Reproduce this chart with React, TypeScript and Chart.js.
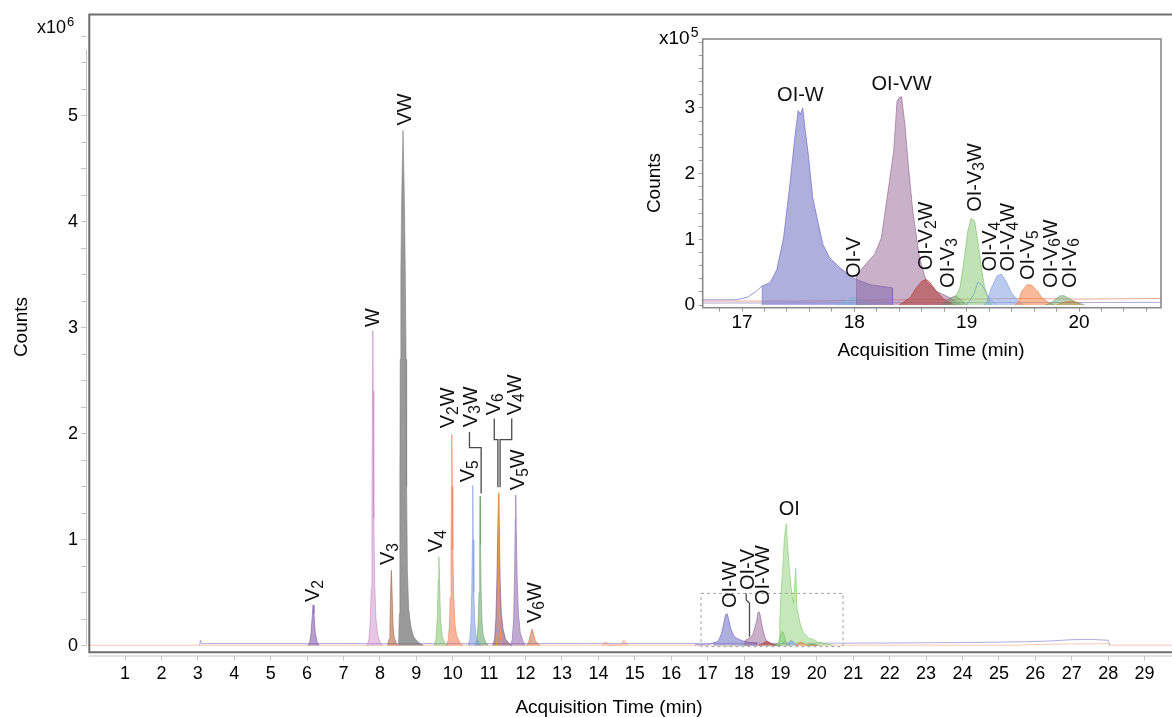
import React, { useEffect, useRef } from "react";
import { Chart, registerables } from "chart.js";
Chart.register(...registerables);

const FONT = '"Liberation Sans", Arial, Helvetica, sans-serif';
type P = [number, number];

// ---------------- DATA: [acquisition time (min), counts ×10^5] ----------------
const MAIN_X_TICKS = [1, 2, 3, 4, 5, 6, 7, 8, 9, 10, 11, 12, 13, 14, 15, 16, 17, 18, 19, 20, 21, 22, 23, 24, 25, 26, 27, 28, 29];
const MAIN_Y_TICKS = [0, 2.5, 5, 7.5, 10, 12.5, 15, 17.5, 20, 22.5, 25, 27.5, 30, 32.5, 35, 37.5, 40, 42.5, 45, 47.5, 50, 52.5, 55, 57.5];
const MAIN_Y_LABELS = [0, 10, 20, 30, 40, 50]; // displayed as 0..5 (x10^6)
const INSET_X_TICKS = [16.8, 17, 17.2, 17.4, 17.6, 17.8, 18, 18.2, 18.4, 18.6, 18.8, 19, 19.2, 19.4, 19.6, 19.8, 20, 20.2, 20.4, 20.6];
const INSET_X_LABELS = [17, 18, 19, 20];
const INSET_Y_TICKS = [0, 0.2, 0.4, 0.6, 0.8, 1, 1.2, 1.4, 1.6, 1.8, 2, 2.2, 2.4, 2.6, 2.8, 3, 3.2, 3.4, 3.6, 3.8, 4];
const INSET_Y_LABELS = [0, 1, 2, 3];

const BASE_ORANGE: P[] = [[0, 0.03], [25.5, 0.03], [26, 0.1], [27, 0.15], [28, 0.18], [28.05, 0.04], [30, 0.04]];
const BASE_PURPLE: P[] = [[3.05, 0], [3.07, 0.5], [3.1, 0.18], [6, 0.18], [10, 0.18], [14, 0.2], [17, 0.2], [20, 0.22], [22, 0.24], [24, 0.28], [25, 0.32], [26, 0.38], [26.5, 0.45], [27, 0.55], [27.5, 0.58], [28, 0.5], [28.05, 0]];
const MINOR_BUMPS: P[] = [[14.1, 0.05], [14.2, 0.35], [14.28, 0.05], [14.6, 0.05], [14.7, 0.5], [14.82, 0.05]];

const V2: P[] = [[6.02, 0], [6.07, 0.3], [6.11, 1.2], [6.145, 3.0], [6.165, 3.82], [6.19, 3.0], [6.225, 1.2], [6.27, 0.4], [6.33, 0]];
const W: P[] = [[7.65, 0], [7.7, 0.6], [7.735, 2.2], [7.765, 5.5], [7.782, 12], [7.797, 25], [7.805, 29.7], [7.815, 24], [7.832, 12], [7.855, 6], [7.89, 2.5], [7.94, 1], [8.0, 0.3], [8.08, 0]];
const V3: P[] = [[8.21, 0], [8.25, 0.6], [8.275, 2], [8.298, 5.5], [8.315, 7.1], [8.335, 5], [8.36, 2], [8.39, 0.8], [8.45, 0.2], [8.5, 0]];
const VW: P[] = [[8.51, 0], [8.535, 3], [8.548, 15], [8.558, 27], [8.575, 35], [8.597, 42], [8.635, 48.6], [8.672, 42], [8.698, 35], [8.718, 27], [8.733, 15], [8.755, 7], [8.79, 3.5], [8.85, 1.8], [8.93, 0.8], [9.05, 0.3], [9.2, 0]];
const V4: P[] = [[9.49, 0], [9.54, 0.6], [9.575, 2.5], [9.602, 6.2], [9.62, 8.37], [9.638, 6], [9.665, 2.5], [9.71, 0.8], [9.79, 0.2], [9.86, 0]];
const V2W: P[] = [[9.83, 0], [9.88, 0.6], [9.91, 2], [9.93, 4.5], [9.952, 9], [9.966, 15], [9.975, 19.9], [9.986, 15], [10.002, 9], [10.03, 4.5], [10.06, 2], [10.11, 0.9], [10.19, 0.3], [10.28, 0]];
const V5: P[] = [[10.42, 0], [10.47, 0.6], [10.5, 2.2], [10.522, 5], [10.54, 10], [10.55, 15.1], [10.562, 10], [10.58, 5], [10.605, 2.2], [10.64, 0.9], [10.71, 0.3], [10.78, 0]];
const V3W: P[] = [[10.62, 0], [10.67, 0.6], [10.7, 2.2], [10.722, 5], [10.74, 9.5], [10.75, 14.1], [10.762, 9.5], [10.78, 5], [10.805, 2.2], [10.84, 0.9], [10.91, 0.3], [10.98, 0]];
const V4W: P[] = [[11.1, 0], [11.15, 0.6], [11.185, 2.5], [11.215, 6.5], [11.242, 11.5], [11.26, 14.2], [11.278, 11], [11.303, 6], [11.335, 3], [11.385, 1.5], [11.45, 0.6], [11.55, 0.2], [11.62, 0]];
const V6: P[] = [[11.2, 0], [11.24, 2], [11.255, 8], [11.262, 14.45], [11.27, 8], [11.29, 2], [11.33, 0]];
const V5W: P[] = [[11.59, 0], [11.635, 0.6], [11.672, 2.5], [11.7, 7], [11.718, 12], [11.73, 14.2], [11.745, 11], [11.772, 6], [11.805, 3], [11.855, 1.2], [11.93, 0.4], [12.0, 0]];
const V6W: P[] = [[12.04, 0], [12.09, 0.4], [12.14, 1.1], [12.18, 1.56], [12.22, 1.1], [12.26, 0.5], [12.33, 0.2], [12.4, 0]];
const OI: P[] = [[18.97, 0], [18.98, 2.4], [19.01, 4.6], [19.07, 7.75], [19.11, 10.25], [19.16, 11.5], [19.2, 9.3], [19.24, 7.43], [19.3, 5.23], [19.36, 3.98], [19.42, 7.28], [19.45, 3.66], [19.54, 2.09], [19.6, 1.5], [19.63, 1.15], [19.7, 1.0], [19.77, 0.68], [19.9, 0.6], [20.0, 0.35], [20.3, 0.15], [20.45, 0]];

const OI_W_LEAD: P[] = [[16.65, 0.08], [16.95, 0.08], [17.05, 0.12], [17.12, 0.2], [17.18, 0.29]];
const OI_W: P[] = [[17.18, 0], [17.18, 0.29], [17.25, 0.34], [17.31, 0.54], [17.37, 1.02], [17.43, 1.89], [17.47, 2.55], [17.5, 2.96], [17.52, 2.9], [17.54, 3.0], [17.56, 2.7], [17.59, 2.29], [17.63, 1.63], [17.68, 1.23], [17.72, 0.92], [17.78, 0.72], [17.87, 0.57], [17.99, 0.41], [18.14, 0.31], [18.34, 0.26], [18.34, 0]];
const OI_V: P[] = [[17.85, 0], [17.95, 0.08], [18.0, 0.12], [18.06, 0.08], [18.15, 0]];
const OI_VW: P[] = [[18.02, 0], [18.02, 0.45], [18.11, 0.64], [18.18, 0.77], [18.24, 1.02], [18.3, 1.73], [18.35, 2.34], [18.38, 3.1], [18.4, 3.16], [18.42, 3.17], [18.45, 2.75], [18.48, 2.14], [18.52, 1.43], [18.58, 0.72], [18.64, 0.36], [18.73, 0.21], [18.85, 0.11], [18.95, 0]];
const OI_V2W: P[] = [[18.4, 0], [18.5, 0.12], [18.55, 0.26], [18.6, 0.36], [18.64, 0.39], [18.67, 0.35], [18.73, 0.21], [18.8, 0.08], [18.9, 0]];
const OI_V3: P[] = [[18.78, 0], [18.85, 0.1], [18.9, 0.14], [18.95, 0.08], [19.0, 0]];
const OI_V3W: P[] = [[18.86, 0], [18.88, 0.05], [18.94, 0.26], [18.98, 0.72], [19.01, 1.12], [19.04, 1.32], [19.07, 1.28], [19.1, 0.97], [19.13, 0.57], [19.16, 0.26], [19.19, 0.11], [19.22, 0]];
const OI_V4: P[] = [[19.0, 0], [19.06, 0.15], [19.1, 0.35], [19.14, 0.3], [19.2, 0.1], [19.26, 0]];
const OI_V4W: P[] = [[19.15, 0], [19.18, 0.05], [19.22, 0.26], [19.27, 0.44], [19.31, 0.47], [19.35, 0.36], [19.4, 0.18], [19.45, 0.08], [19.5, 0]];
const OI_V5: P[] = [[19.43, 0], [19.46, 0.05], [19.49, 0.21], [19.54, 0.31], [19.58, 0.3], [19.63, 0.21], [19.67, 0.11], [19.72, 0.05], [19.78, 0]];
const OI_V6W: P[] = [[19.7, 0], [19.75, 0.03], [19.83, 0.14], [19.87, 0.14], [19.96, 0.05], [20.05, 0]];
const OI_V6: P[] = [[19.8, 0], [19.88, 0.05], [19.95, 0.06], [20.02, 0]];
const INSET_BASE_RED: P[] = [[16.65, 0.06], [17.5, 0.06], [18.5, 0.08], [19.5, 0.1], [20, 0.09], [20.73, 0.1]];
const INSET_BASE_VIOLET: P[] = [[16.65, 0.03], [20.73, 0.04]];

// label text ("_d" = subscript), time of label, intensity at label foot
const MAIN_LABELS: [string, number, number][] = [
  ["V_2", 6.14, 4.1], ["W", 7.79, 30.05], ["V_3", 8.2, 7.59], ["VW", 8.66, 49.06], ["V_4", 9.52, 8.81],
  ["V_2W", 9.85, 20.5], ["V_5", 10.4, 15.4], ["V_3W", 10.46, 20.6], ["V_6", 11.09, 21.72], ["V_4W", 11.68, 21.72],
  ["V_5W", 11.77, 14.66], ["V_6W", 12.23, 2.12], ["OI-W", 17.59, 3.53], ["OI-V", 18.07, 5.23], ["OI-VW", 18.5, 3.82],
];
const MAIN_FLAT_LABELS: [string, number, number][] = [["OI", 19.24, 12.3]];
const MAIN_LEADERS: P[][] = [
  [[10.78, 14.35], [10.78, 18.68], [10.46, 18.68], [10.46, 20.15]],
  [[11.24, 14.94], [11.24, 19.43], [11.14, 19.43], [11.14, 21.41]],
  [[11.3, 14.94], [11.3, 19.43], [11.62, 19.43], [11.62, 21.41]],
  [[18.15, 0.83], [18.15, 3.98], [18.06, 4.29], [18.06, 4.92]],
];
const ZOOM_BOX: P[] = [[16.82, -0.11], [20.72, 4.92]];
const INSET_LABELS: [string, number, number][] = [
  ["OI-V", 17.99, 0.41], ["OI-V_2W", 18.63, 0.53], ["OI-V_3", 18.82, 0.26], ["OI-V_3W", 19.06, 1.42],
  ["OI-V_4", 19.2, 0.51], ["OI-V_4W", 19.36, 0.51], ["OI-V_5", 19.54, 0.38], ["OI-V_6W", 19.74, 0.26], ["OI-V_6", 19.91, 0.26],
];
const INSET_FLAT_LABELS: [string, number, number][] = [["OI-W", 17.52, 3.1], ["OI-VW", 18.42, 3.27]];

// ---------------- styles ----------------
type Trace = { data: P[]; fill: string | null; line: string; order: number };
const OI_TRACES: Trace[] = [
  { data: OI_W_LEAD, fill: null, line: "rgba(110,110,195,0.7)", order: 20 },
  { data: OI_W, fill: "rgba(110,110,195,0.55)", line: "rgba(110,110,195,0.7)", order: 12 },
  { data: OI_V, fill: "rgba(130,180,220,0.5)", line: "rgba(130,180,220,0.8)", order: 11 },
  { data: OI_VW, fill: "rgba(150,100,150,0.5)", line: "rgba(150,100,150,0.65)", order: 10 },
  { data: OI_V2W, fill: "rgba(180,60,50,0.55)", line: "rgba(180,60,50,0.65)", order: 9 },
  { data: OI_V3, fill: "rgba(110,130,110,0.45)", line: "rgba(110,130,110,0.7)", order: 8 },
  { data: OI_V3W, fill: "rgba(130,200,110,0.5)", line: "rgba(120,190,100,0.65)", order: 7 },
  { data: OI_V4, fill: null, line: "rgba(120,170,190,0.85)", order: 6 },
  { data: OI_V4W, fill: "rgba(130,160,225,0.55)", line: "rgba(130,160,225,0.7)", order: 5 },
  { data: OI_V5, fill: "rgba(245,130,70,0.55)", line: "rgba(245,130,70,0.7)", order: 4 },
  { data: OI_V6W, fill: "rgba(100,160,100,0.45)", line: "rgba(100,160,100,0.65)", order: 3 },
  { data: OI_V6, fill: "rgba(200,120,60,0.45)", line: "rgba(200,120,60,0.65)", order: 2 },
];
const MAIN_TRACES: Trace[] = [
  { data: BASE_ORANGE, fill: null, line: "rgba(240,150,100,0.5)", order: 50 },
  { data: BASE_PURPLE, fill: null, line: "rgba(110,100,200,0.55)", order: 49 },
  { data: MINOR_BUMPS, fill: "rgba(240,140,100,0.3)", line: "rgba(240,140,100,0.6)", order: 48 },
  { data: V2, fill: "rgba(120,80,160,0.55)", line: "rgba(120,80,160,0.55)", order: 30 },
  { data: W, fill: "rgba(200,130,200,0.45)", line: "rgba(200,130,200,0.6)", order: 30 },
  { data: V3, fill: "rgba(170,90,50,0.55)", line: "rgba(170,90,50,0.55)", order: 30 },
  { data: VW, fill: "rgba(110,110,110,0.7)", line: "rgba(120,120,120,0.55)", order: 30 },
  { data: V4, fill: "rgba(120,190,100,0.5)", line: "rgba(120,190,100,0.55)", order: 30 },
  { data: V2W, fill: "rgba(240,120,80,0.55)", line: "rgba(240,120,80,0.55)", order: 30 },
  { data: V5, fill: "rgba(120,150,220,0.55)", line: "rgba(120,150,220,0.55)", order: 30 },
  { data: V3W, fill: "rgba(100,160,100,0.55)", line: "rgba(100,160,100,0.55)", order: 30 },
  { data: V4W, fill: "rgba(130,80,110,0.6)", line: "rgba(130,80,110,0.6)", order: 30 },
  { data: V6, fill: null, line: "rgba(245,150,60,0.85)", order: 29 },
  { data: V5W, fill: "rgba(140,100,170,0.55)", line: "rgba(140,100,170,0.55)", order: 30 },
  { data: V6W, fill: "rgba(200,110,70,0.55)", line: "rgba(200,110,70,0.55)", order: 30 },
  { data: OI, fill: "rgba(140,210,120,0.5)", line: "rgba(130,200,110,0.6)", order: 25 },
  ...OI_TRACES,
];
const INSET_TRACES: Trace[] = [
  { data: INSET_BASE_VIOLET, fill: null, line: "rgba(130,110,180,0.6)", order: 40 },
  { data: INSET_BASE_RED, fill: null, line: "rgba(220,110,90,0.6)", order: 41 },
  ...OI_TRACES,
];

function toDatasets(traces: Trace[]) {
  return traces.map((t) => ({
    data: t.data.map(([x, y]) => ({ x, y })),
    backgroundColor: t.fill || "transparent",
    borderColor: t.line,
    borderWidth: 1,
    fill: t.fill ? "origin" : false,
    pointRadius: 0,
    tension: 0,
    order: t.order,
  }));
}

const font = (s: number) => `${s}px ${FONT}`;

function splitRich(text: string) {
  const out: { t: string; sub: boolean }[] = [];
  for (let i = 0; i < text.length; i++) {
    if (text[i] === "_") {
      out.push({ t: text[i + 1], sub: true });
      i++;
    } else {
      const last = out[out.length - 1];
      if (last && !last.sub) last.t += text[i];
      else out.push({ t: text[i], sub: false });
    }
  }
  return out;
}

function drawRich(ctx: CanvasRenderingContext2D, text: string, x: number, y: number, size: number, rotate: boolean, center: boolean) {
  const ps = splitRich(text);
  ctx.save();
  ctx.translate(x, y);
  if (rotate) ctx.rotate(-Math.PI / 2);
  ctx.fillStyle = "#111";
  ctx.textAlign = "left";
  ctx.textBaseline = "alphabetic";
  let w = 0;
  for (const p of ps) {
    ctx.font = font(p.sub ? size * 0.78 : size);
    w += ctx.measureText(p.t).width;
  }
  let cx = center ? -w / 2 : 0;
  for (const p of ps) {
    ctx.font = font(p.sub ? size * 0.78 : size);
    ctx.fillText(p.t, cx, p.sub ? size * 0.17 : 0);
    cx += ctx.measureText(p.t).width;
  }
  ctx.restore();
}

function tickOpts(size: number, pad: number, labels: number[], fmt: (v: number) => string) {
  return {
    autoSkip: false,
    maxRotation: 0,
    minRotation: 0,
    padding: pad,
    color: "#000",
    font: { family: FONT, size },
    callback: (v: any) => (labels.some((l) => Math.abs(l - v) < 1e-6) ? fmt(v) : ""),
  };
}

const mainOverlay = {
  id: "mainOverlay",
  afterDraw(chart: any) {
    const ctx: CanvasRenderingContext2D = chart.ctx;
    const a = chart.chartArea;
    const X = (t: number) => chart.scales.x.getPixelForValue(t);
    const Y = (v: number) => chart.scales.y.getPixelForValue(v);
    ctx.save();
    ctx.strokeStyle = "#c4c4c4";
    ctx.lineWidth = 1;
    ctx.beginPath();
    ctx.moveTo(a.left + 0.5, Y(56.2));
    ctx.lineTo(a.left + 0.5, Y(0));
    ctx.moveTo(X(0), a.bottom + 0.5);
    ctx.lineTo(a.right, a.bottom + 0.5);
    ctx.stroke();
    ctx.strokeStyle = "#6e6e6e";
    ctx.lineWidth = 2;
    const fl = X(0) + 0.7;
    const ft = a.top + 0.7;
    const fb = a.bottom - 3.2;
    ctx.beginPath();
    ctx.moveTo(a.right + 5, ft);
    ctx.lineTo(fl, ft);
    ctx.lineTo(fl, fb);
    ctx.lineTo(a.right + 5, fb);
    ctx.stroke();
    ctx.strokeStyle = "#a0a0a0";
    ctx.lineWidth = 1;
    ctx.setLineDash([3, 3]);
    const [b0, b1] = ZOOM_BOX;
    ctx.strokeRect(X(b0[0]), Y(b1[1]), X(b1[0]) - X(b0[0]), Y(b0[1]) - Y(b1[1]));
    ctx.setLineDash([]);
    ctx.strokeStyle = "#4a4a4a";
    ctx.lineWidth = 1.3;
    for (const l of MAIN_LEADERS) {
      ctx.beginPath();
      l.forEach(([t, v], i) => (i ? ctx.lineTo(X(t), Y(v)) : ctx.moveTo(X(t), Y(v))));
      ctx.stroke();
    }
    const S = 20;
    for (const [txt, t, v] of MAIN_LABELS) drawRich(ctx, txt, X(t) + S * 0.358, Y(v), S, true, false);
    for (const [txt, t, v] of MAIN_FLAT_LABELS) drawRich(ctx, txt, X(t), Y(v), S, false, true);
    ctx.fillStyle = "#000";
    ctx.textAlign = "left";
    ctx.textBaseline = "alphabetic";
    ctx.font = font(18);
    ctx.fillText("x10", 37, 33.3);
    const w = ctx.measureText("x10").width;
    ctx.font = font(13);
    ctx.fillText("6", 37 + w + 1, 25.5);
    ctx.font = font(19);
    ctx.textAlign = "center";
    ctx.textBaseline = "middle";
    ctx.fillText("Acquisition Time (min)", 609, 708);
    ctx.save();
    ctx.translate(22, 327);
    ctx.rotate(-Math.PI / 2);
    ctx.fillText("Counts", 0, 0);
    ctx.restore();
    ctx.restore();
  },
};

const insetOverlay = {
  id: "insetOverlay",
  afterDraw(chart: any) {
    const ctx: CanvasRenderingContext2D = chart.ctx;
    const a = chart.chartArea;
    const X = (t: number) => chart.scales.x.getPixelForValue(t);
    const Y = (v: number) => chart.scales.y.getPixelForValue(v);
    ctx.save();
    ctx.strokeStyle = "#8a8a8a";
    ctx.lineWidth = 1.6;
    ctx.strokeRect(a.left, a.top, a.right - a.left, a.bottom - a.top);
    const S = 20;
    for (const [txt, t, v] of INSET_LABELS) drawRich(ctx, txt, X(t) + S * 0.358, Y(v), S, true, false);
    for (const [txt, t, v] of INSET_FLAT_LABELS) drawRich(ctx, txt, X(t), Y(v), S, false, true);
    ctx.fillStyle = "#000";
    ctx.textAlign = "left";
    ctx.textBaseline = "alphabetic";
    ctx.font = font(19);
    ctx.fillText("x10", 19, 23.5);
    const w = ctx.measureText("x10").width;
    ctx.font = font(14);
    ctx.fillText("5", 19 + w + 1, 16.5);
    ctx.font = font(19);
    ctx.textAlign = "center";
    ctx.textBaseline = "middle";
    ctx.fillText("Acquisition Time (min)", 291, 331);
    ctx.save();
    ctx.translate(15, 163);
    ctx.rotate(-Math.PI / 2);
    ctx.fillText("Counts", 0, 0);
    ctx.restore();
    ctx.restore();
  },
};

export default function App() {
  const mainRef = useRef<HTMLCanvasElement>(null);
  const insetRef = useRef<HTMLCanvasElement>(null);

  useEffect(() => {
    Chart.defaults.font.family = FONT;
    const main = new Chart(mainRef.current as HTMLCanvasElement, {
      type: "line",
      data: { datasets: toDatasets(MAIN_TRACES) as any },
      options: {
        animation: false,
        responsive: false,
        devicePixelRatio: 1,
        layout: { padding: { top: 13, left: 0, right: 0, bottom: 0 } },
        plugins: { legend: { display: false }, tooltip: { enabled: false } },
        scales: {
          x: {
            type: "linear",
            min: -0.0714,
            max: 30,
            afterFit: (s: any) => { s.height = 61.5; },
            afterBuildTicks: (s: any) => { s.ticks = MAIN_X_TICKS.map((value) => ({ value })); },
            grid: { drawOnChartArea: false, drawTicks: true, tickLength: 5, color: "#c4c4c4" },
            border: { display: false },
            ticks: tickOpts(18, 3, MAIN_X_TICKS, (v) => String(v)) as any,
          },
          y: {
            type: "linear",
            min: -0.94,
            max: 59.6,
            afterFit: (s: any) => { s.width = 86; },
            afterBuildTicks: (s: any) => { s.ticks = MAIN_Y_TICKS.map((value) => ({ value })); },
            grid: { drawOnChartArea: false, drawTicks: true, tickLength: 5, color: "#c4c4c4" },
            border: { display: false },
            ticks: tickOpts(18, 3, MAIN_Y_LABELS, (v) => String(Math.round(v / 10))) as any,
          },
        },
      },
      plugins: [mainOverlay],
    });
    const inset = new Chart(insetRef.current as HTMLCanvasElement, {
      type: "line",
      data: { datasets: toDatasets(INSET_TRACES) as any },
      options: {
        animation: false,
        responsive: false,
        devicePixelRatio: 1,
        layout: { padding: { top: 19, left: 0, right: 11, bottom: 0 } },
        plugins: { legend: { display: false }, tooltip: { enabled: false } },
        scales: {
          x: {
            type: "linear",
            min: 16.65,
            max: 20.73,
            afterFit: (s: any) => { s.height = 62.3; },
            afterBuildTicks: (s: any) => { s.ticks = INSET_X_TICKS.map((value) => ({ value })); },
            grid: { drawOnChartArea: false, drawTicks: true, tickLength: 4, color: "#9a9a9a" },
            border: { display: false },
            ticks: tickOpts(19, 0, INSET_X_LABELS, (v) => String(Math.round(v))) as any,
          },
          y: {
            type: "linear",
            min: -0.041,
            max: 4.05,
            afterFit: (s: any) => { s.width = 62.7; },
            afterBuildTicks: (s: any) => { s.ticks = INSET_Y_TICKS.map((value) => ({ value })); },
            grid: { drawOnChartArea: false, drawTicks: true, tickLength: 4, color: "#9a9a9a" },
            border: { display: false },
            ticks: tickOpts(19, 3.7, INSET_Y_LABELS, (v) => String(Math.round(v))) as any,
          },
        },
      },
      plugins: [insetOverlay],
    });
    return () => {
      main.destroy();
      inset.destroy();
    };
  }, []);

  return (
    <div style={{ position: "fixed", left: 0, top: 0, width: 1172, height: 717, overflow: "hidden", background: "#fff" }}>
      <canvas ref={mainRef} width={1181} height={717} style={{ position: "absolute", left: 0, top: 0, width: 1181, height: 717 }} />
      <canvas ref={insetRef} width={532} height={350} style={{ position: "absolute", left: 640, top: 20, width: 532, height: 350 }} />
    </div>
  );
}
